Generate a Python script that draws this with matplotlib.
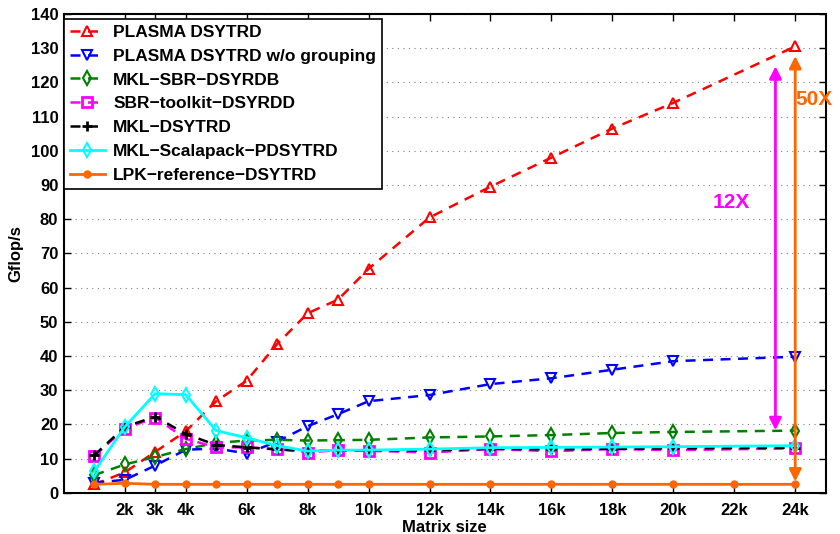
import numpy as np
import matplotlib.pyplot as plt

plt.rcParams['font.family'] = ['Liberation Sans', 'DejaVu Sans']
plt.rcParams['font.weight'] = 'bold'

sizes = [1, 2, 3, 4, 5, 6, 7, 8, 9, 10, 12, 14, 16, 18, 20, 24]
sizes_lpk = [1, 2, 3, 4, 5, 6, 7, 8, 9, 10, 12, 14, 16, 18, 20, 22, 24]

plasma = [2.5, 6, 12, 18, 26.8, 32.8, 43.5, 52.5, 56.5, 65.5, 80.5, 89.5, 98, 106.5, 114, 130.5]
plasma_nogroup = [3, 3.8, 8, 12.6, 13, 11.5, 15, 19.5, 23, 26.8, 28.6, 31.8, 33.5, 36, 38.5, 39.8]
mkl_sbr = [5.2, 8.3, 10.5, 12.8, 14.6, 15.3, 15.5, 15.3, 15.4, 15.5, 16.2, 16.5, 16.9, 17.5, 17.8, 18.2]
sbr_toolkit = [10.8, 18.8, 22, 15.8, 13.3, 13.3, 12.8, 11.8, 12.5, 12.3, 11.8, 12.8, 12.2, 12.8, 12.5, 13]
mkl_dsytrd = [11, 19.3, 22.3, 17.2, 14, 13.3, 12.7, 12.3, 12.4, 12.4, 12.4, 12.9, 12.7, 12.9, 13, 13.2]
scalapack = [6.3, 19.3, 29, 28.7, 18.2, 16.1, 13.8, 12.2, 12.5, 12.5, 12.8, 13.2, 13.3, 13.4, 13.5, 13.8]
lpk = [2.5, 2.8, 2.5, 2.5, 2.5, 2.5, 2.5, 2.5, 2.5, 2.5, 2.5, 2.5, 2.5, 2.5, 2.5, 2.5, 2.5]

xticks = [2, 3, 4, 6, 8, 10, 12, 14, 16, 18, 20, 22, 24]
xticklabels = ["2k", "3k", "4k", "6k", "8k", "10k", "12k", "14k", "16k", "18k", "20k", "22k", "24k"]

fig = plt.figure(figsize=(8.4, 5.34), dpi=100)
ax = fig.add_axes([0.076, 0.077, 0.907, 0.897])

orange = "#ff6600"
dash = (0, (4, 3))
ax.plot(sizes, plasma, linestyle=dash, color="red", lw=1.8, marker="^", ms=7, mfc="none", mew=1.5,
        label="PLASMA DSYTRD")
ax.plot(sizes, plasma_nogroup, linestyle=dash, color="blue", lw=1.8, marker="v", ms=7, mfc="none", mew=1.5,
        label="PLASMA DSYTRD w/o grouping")
ax.plot(sizes, mkl_sbr, linestyle=dash, color="green", lw=1.8, marker="d", ms=7, mfc="none", mew=1.5,
        label="MKL\u2212SBR\u2212DSYRDB")
ax.plot(sizes, sbr_toolkit, linestyle=dash, color="magenta", lw=1.8, marker="s", ms=6.5, mfc="none", mew=2,
        label="SBR\u2212toolkit\u2212DSYRDD")
ax.plot(sizes, mkl_dsytrd, linestyle=dash, color="black", lw=1.8, marker="+", ms=7, mew=2,
        label="MKL\u2212DSYTRD")
ax.plot(sizes, scalapack, "-", color="cyan", lw=2, marker="d", ms=7, mfc="none", mew=1.5,
        label="MKL\u2212Scalapack\u2212PDSYTRD")
ax.plot(sizes_lpk, lpk, "-", color=orange, lw=2, marker="o", ms=5,
        label="LPK\u2212reference\u2212DSYTRD")

# speedup arrows
ax.annotate("", xy=(23.35, 17.5), xytext=(23.35, 125.5),
            arrowprops=dict(arrowstyle="<|-|>", color="magenta", lw=2, mutation_scale=18))
ax.text(21.9, 85, "12X", color="magenta", fontsize=15, fontweight="bold", ha="center", va="center")
ax.annotate("", xy=(24, 2.5), xytext=(24, 128.5),
            arrowprops=dict(arrowstyle="<|-|>", color=orange, lw=2, mutation_scale=18))
ax.text(24.0, 115, "50X", color=orange, fontsize=15, fontweight="bold", ha="left", va="center")

ax.set_xlim(0, 25)
ax.set_ylim(0, 140)
ax.set_xticks(xticks)
ax.set_xticklabels(xticklabels)
ax.set_yticks(np.arange(0, 141, 10))
ax.tick_params(direction="in", top=True, right=True, labelsize=12, width=1, length=5)
ax.tick_params(axis="x", pad=7)
ax.tick_params(axis="y", pad=4)
for lab in ax.get_xticklabels() + ax.get_yticklabels():
    lab.set_fontweight("bold")
ax.yaxis.grid(True, linestyle=(0, (1, 4)), color="gray", lw=0.8)
for s in ax.spines.values():
    s.set_linewidth(1.5)

ax.set_xlabel("Matrix size", fontsize=12, fontweight="bold", labelpad=1.5)
ax.set_ylabel("Gflop/s", fontsize=12, fontweight="bold", labelpad=5)

leg = ax.legend(loc="upper left", prop={"weight": "bold", "size": 12.5},
                bbox_to_anchor=(0.0, 0.99), borderaxespad=0.0, fancybox=False,
                framealpha=1, edgecolor="black", handlelength=2.0,
                labelspacing=0.5, borderpad=0.35, handletextpad=0.5)
leg.get_frame().set_linewidth(1.2)

fig.savefig("out.png", dpi=100)
